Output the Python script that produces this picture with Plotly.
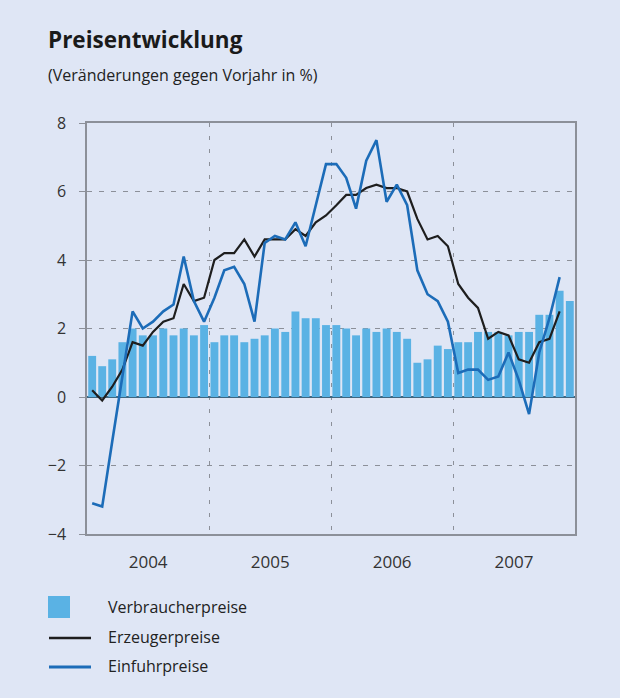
import pandas as pd
import plotly.graph_objects as go

# Monthly values, Jan 2004 - Dec 2007 (Veränderungen gegen Vorjahr in %)
months = pd.date_range('2004-01-01', periods=48, freq='MS')

verbraucherpreise = [1.2, 0.9, 1.1, 1.6, 2.0, 1.8, 1.8, 2.0, 1.8, 2.0, 1.8, 2.1,
                     1.6, 1.8, 1.8, 1.6, 1.7, 1.8, 2.0, 1.9, 2.5, 2.3, 2.3, 2.1,
                     2.1, 2.0, 1.8, 2.0, 1.9, 2.0, 1.9, 1.7, 1.0, 1.1, 1.5, 1.4,
                     1.6, 1.6, 1.9, 1.9, 1.9, 1.8, 1.9, 1.9, 2.4, 2.4, 3.1, 2.8]

# lines end in Nov 2007
erzeugerpreise = [0.2, -0.1, 0.3, 0.8, 1.6, 1.5, 1.9, 2.2, 2.3, 3.3, 2.8, 2.9,
                  4.0, 4.2, 4.2, 4.6, 4.1, 4.6, 4.6, 4.6, 4.9, 4.7, 5.1, 5.3,
                  5.6, 5.9, 5.9, 6.1, 6.2, 6.1, 6.1, 6.0, 5.2, 4.6, 4.7, 4.4,
                  3.3, 2.9, 2.6, 1.7, 1.9, 1.8, 1.1, 1.0, 1.6, 1.7, 2.5]

einfuhrpreise = [-3.1, -3.2, -1.3, 0.6, 2.5, 2.0, 2.2, 2.5, 2.7, 4.1, 2.8, 2.2,
                 2.9, 3.7, 3.8, 3.3, 2.2, 4.5, 4.7, 4.6, 5.1, 4.4, 5.6, 6.8,
                 6.8, 6.4, 5.5, 6.9, 7.5, 5.7, 6.2, 5.6, 3.7, 3.0, 2.8, 2.2,
                 0.7, 0.8, 0.8, 0.5, 0.6, 1.3, 0.5, -0.5, 1.3, 2.3, 3.5]

legend_names = ['Verbraucherpreise', 'Erzeugerpreise', 'Einfuhrpreise']

BG = '#dfe6f5'
BAR = '#5ab2e4'
BLACK = '#1e1e1e'
BLUE = '#1c6cb8'
GRID = '#8c9099'
FONT = 'Open Sans'

fig = go.Figure()
fig.add_trace(go.Bar(x=months, y=verbraucherpreise, name=legend_names[0],
                     marker=dict(color=BAR, line=dict(width=0)),
                     xperiod='M1', xperiodalignment='middle'))
fig.add_trace(go.Scatter(x=months[:len(erzeugerpreise)], y=erzeugerpreise, name=legend_names[1],
                         mode='lines', line=dict(color=BLACK, width=2.2),
                         xperiod='M1', xperiodalignment='middle'))
fig.add_trace(go.Scatter(x=months[:len(einfuhrpreise)], y=einfuhrpreise, name=legend_names[2],
                         mode='lines', line=dict(color=BLUE, width=2.6),
                         xperiod='M1', xperiodalignment='middle'))

# plot area in pixels: left 87, right 575, top 123, bottom 534
L, R, T, B = 87, 575, 123, 534
W, H = 620, 698
def px(x):
    return (x - L) / (R - L)
def py(y):
    return (B - y) / (B - T)

fig.update_layout(
    width=W, height=H,
    margin=dict(l=L, r=W - R, t=T, b=H - B),
    paper_bgcolor=BG, plot_bgcolor=BG,
    showlegend=False, bargap=0.2,
    font=dict(family=FONT, color='#222222'),
)
fig.update_xaxes(type='date', range=['2004-01-01', '2008-01-01'],
                 dtick='M12', tick0='2004-01-01', tickformat='%Y', ticklabelmode='period',
                 showgrid=True, gridcolor=GRID, griddash='4px,9px', gridwidth=1,
                 showline=True, mirror=True, linecolor=GRID, linewidth=1.5,
                 ticks='', tickfont=dict(size=17, color='#333333'), ticklabelstandoff=12)
fig.update_yaxes(range=[-4, 8], tickvals=[-4, -2, 0, 2, 4, 6, 8],
                 showgrid=True, gridcolor=GRID, griddash='5px,7px', gridwidth=1,
                 zeroline=True, zerolinecolor='#3f6680', zerolinewidth=1.5,
                 showline=True, mirror=True, linecolor=GRID, linewidth=1.5,
                 ticks='outside', ticklen=6, tickcolor=GRID,
                 tickfont=dict(size=16, color='#333333'), ticklabelstandoff=10)

# title and subtitle
fig.add_annotation(text='<b>Preisentwicklung</b>', xref='paper', yref='paper',
                   x=px(46), y=py(40), xanchor='left', yanchor='middle', showarrow=False,
                   font=dict(size=22.5, color='#1a1a1a', family=FONT))
fig.add_annotation(text='(Veränderungen gegen Vorjahr in %)', xref='paper', yref='paper',
                   x=px(46), y=py(75), xanchor='left', yanchor='middle', showarrow=False,
                   font=dict(size=16, color='#222222', family=FONT))

# legend below the chart
fig.add_shape(type='rect', xref='paper', yref='paper', x0=px(48), x1=px(70), y0=py(596), y1=py(618),
              fillcolor=BAR, line=dict(width=0))
fig.add_shape(type='line', xref='paper', yref='paper', x0=px(49), x1=px(91), y0=py(638), y1=py(638),
              line=dict(color=BLACK, width=2.5))
fig.add_shape(type='line', xref='paper', yref='paper', x0=px(49), x1=px(91), y0=py(667), y1=py(667),
              line=dict(color=BLUE, width=3))
for name, yy in zip(legend_names, [607, 637, 666]):
    fig.add_annotation(text=name, xref='paper', yref='paper', x=px(106), y=py(yy),
                       xanchor='left', yanchor='middle', showarrow=False,
                       font=dict(size=16, color='#222222', family=FONT))

fig.write_html('out.html', config={'displayModeBar': False},
               post_script="document.body.style.margin='0';")
